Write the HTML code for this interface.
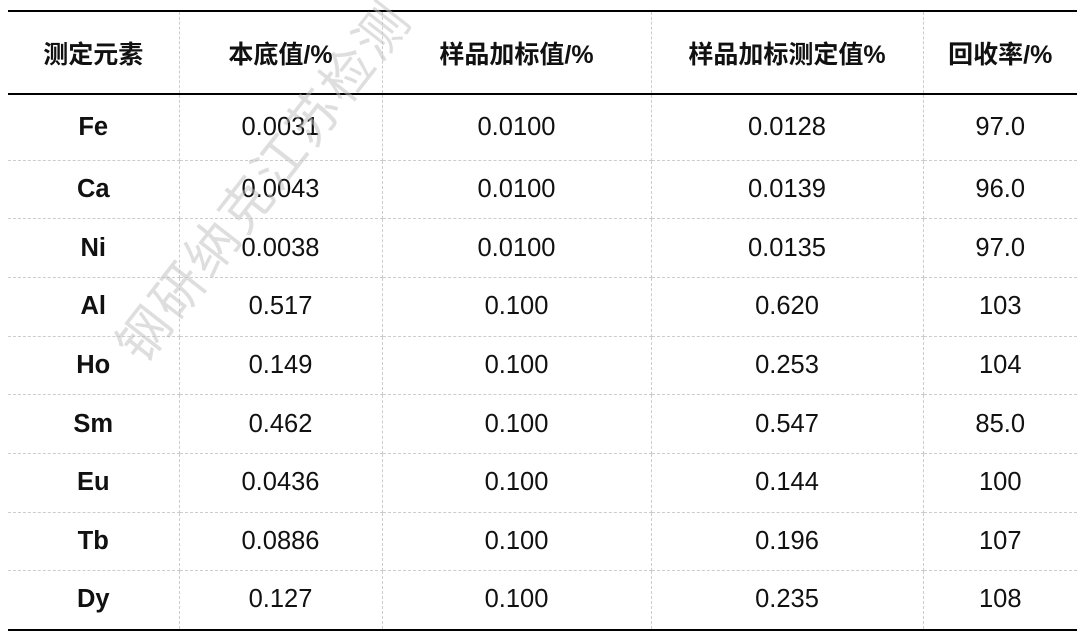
<!DOCTYPE html>
<html><head><meta charset="utf-8"><style>
html,body{margin:0;padding:0;background:#fff;width:1080px;height:638px;overflow:hidden;position:relative}
table{position:absolute;left:8px;top:10px;width:1069px;border-collapse:collapse;font-family:"Liberation Sans","Noto Sans CJK SC",sans-serif;font-size:25.5px;color:#111}
td,th{text-align:center;border-left:1px dashed #ccc;border-right:1px dashed #ccc;border-bottom:1px dashed #ccc;padding:0}
td:first-child,th:first-child{border-left:none}
td:last-child,th:last-child{border-right:none}
thead tr{height:83px}
thead th{border-top:2px solid #000;border-bottom:2px solid #000;font-weight:bold;font-size:25px}
tbody tr{height:58.7px}
tbody tr:first-child{height:66px}
tbody tr:last-child td{border-bottom:2.5px solid #000}
td:first-child{font-weight:bold}
.wm{position:absolute;font-family:"Noto Sans CJK SC",sans-serif;font-size:52px;color:rgba(190,190,190,0.5);transform:rotate(-52deg);transform-origin:left center;white-space:nowrap;letter-spacing:3px;pointer-events:none}
</style></head><body>
<table>
<colgroup><col style="width:171px"><col style="width:203px"><col style="width:269px"><col style="width:272px"><col style="width:154px"></colgroup>
<thead><tr><th>测定元素</th><th>本底值/%</th><th>样品加标值/%</th><th>样品加标测定值%</th><th>回收率/%</th></tr></thead>
<tbody>
<tr><td>Fe</td><td>0.0031</td><td>0.0100</td><td>0.0128</td><td>97.0</td></tr>
<tr><td>Ca</td><td>0.0043</td><td>0.0100</td><td>0.0139</td><td>96.0</td></tr>
<tr><td>Ni</td><td>0.0038</td><td>0.0100</td><td>0.0135</td><td>97.0</td></tr>
<tr><td>Al</td><td>0.517</td><td>0.100</td><td>0.620</td><td>103</td></tr>
<tr><td>Ho</td><td>0.149</td><td>0.100</td><td>0.253</td><td>104</td></tr>
<tr><td>Sm</td><td>0.462</td><td>0.100</td><td>0.547</td><td>85.0</td></tr>
<tr><td>Eu</td><td>0.0436</td><td>0.100</td><td>0.144</td><td>100</td></tr>
<tr><td>Tb</td><td>0.0886</td><td>0.100</td><td>0.196</td><td>107</td></tr>
<tr><td>Dy</td><td>0.127</td><td>0.100</td><td>0.235</td><td>108</td></tr>
</tbody></table>
<div class="wm" style="left:125px;top:315px">钢研纳克江苏检测</div>
</body></html>
